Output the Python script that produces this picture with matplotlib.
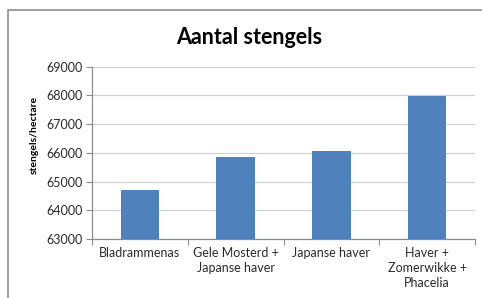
import matplotlib.pyplot as plt
from matplotlib.patches import Rectangle

categories = ["Bladrammenas", "Gele Mosterd +\nJapanse haver", "Japanse haver",
              "Haver +\nZomerwikke +\nPhacelia"]
values = [64700, 65860, 66060, 67970]
yticks = [63000, 64000, 65000, 66000, 67000, 68000, 69000]

plt.rcParams['font.family'] = ['Lato', 'DejaVu Sans']

fig = plt.figure(figsize=(4.82, 2.98), dpi=100)
ax = fig.add_axes([92 / 482, 1 - 239 / 298, 383 / 482, (239 - 66.7) / 298])

# outer chart border (right and bottom edges fall outside the picture)
fig.patches.append(Rectangle((8 / 482, -0.1), 1.2, 1 - 10 / 298 + 0.1,
                             transform=fig.transFigure, fill=False,
                             edgecolor='#8c8c8c', linewidth=1.2))

x = range(len(categories))
ax.bar(x, values, width=0.4, color='#4f81bd', zorder=3)

ax.set_xlim(-0.5, len(categories) - 0.5)
ax.set_ylim(63000, 69000)
ax.set_yticks(yticks)
ax.set_yticklabels([str(v) for v in yticks])
ax.yaxis.grid(True, color='#d0d0d0', linewidth=0.9, zorder=0)

ax.set_xticks([i - 0.5 for i in range(len(categories) + 1)])
ax.set_xticklabels([])
ax.set_xticks(list(x), minor=True)
ax.set_xticklabels(categories, minor=True, fontsize=9, color='#2a2a2a',
                   linespacing=1.3)
ax.tick_params(axis='x', which='minor', length=0, pad=6)
ax.tick_params(axis='x', which='major', length=4, color='#8c8c8c')
ax.tick_params(axis='y', length=4, color='#8c8c8c', labelsize=9,
               labelcolor='#2a2a2a', pad=3)

for s in ['top', 'right']:
    ax.spines[s].set_visible(False)
for s in ['left', 'bottom']:
    ax.spines[s].set_color('#8c8c8c')
    ax.spines[s].set_linewidth(0.9)

fig.text(249 / 482, 1 - 38 / 298, "Aantal stengels", ha='center', va='center',
         fontsize=15.5, fontweight='bold')
fig.text(34 / 482, 1 - 135 / 298, "stengels/hectare", ha='center', va='center',
         rotation=90, fontsize=7.5, fontweight='bold')

fig.savefig("out.png", dpi=100)
